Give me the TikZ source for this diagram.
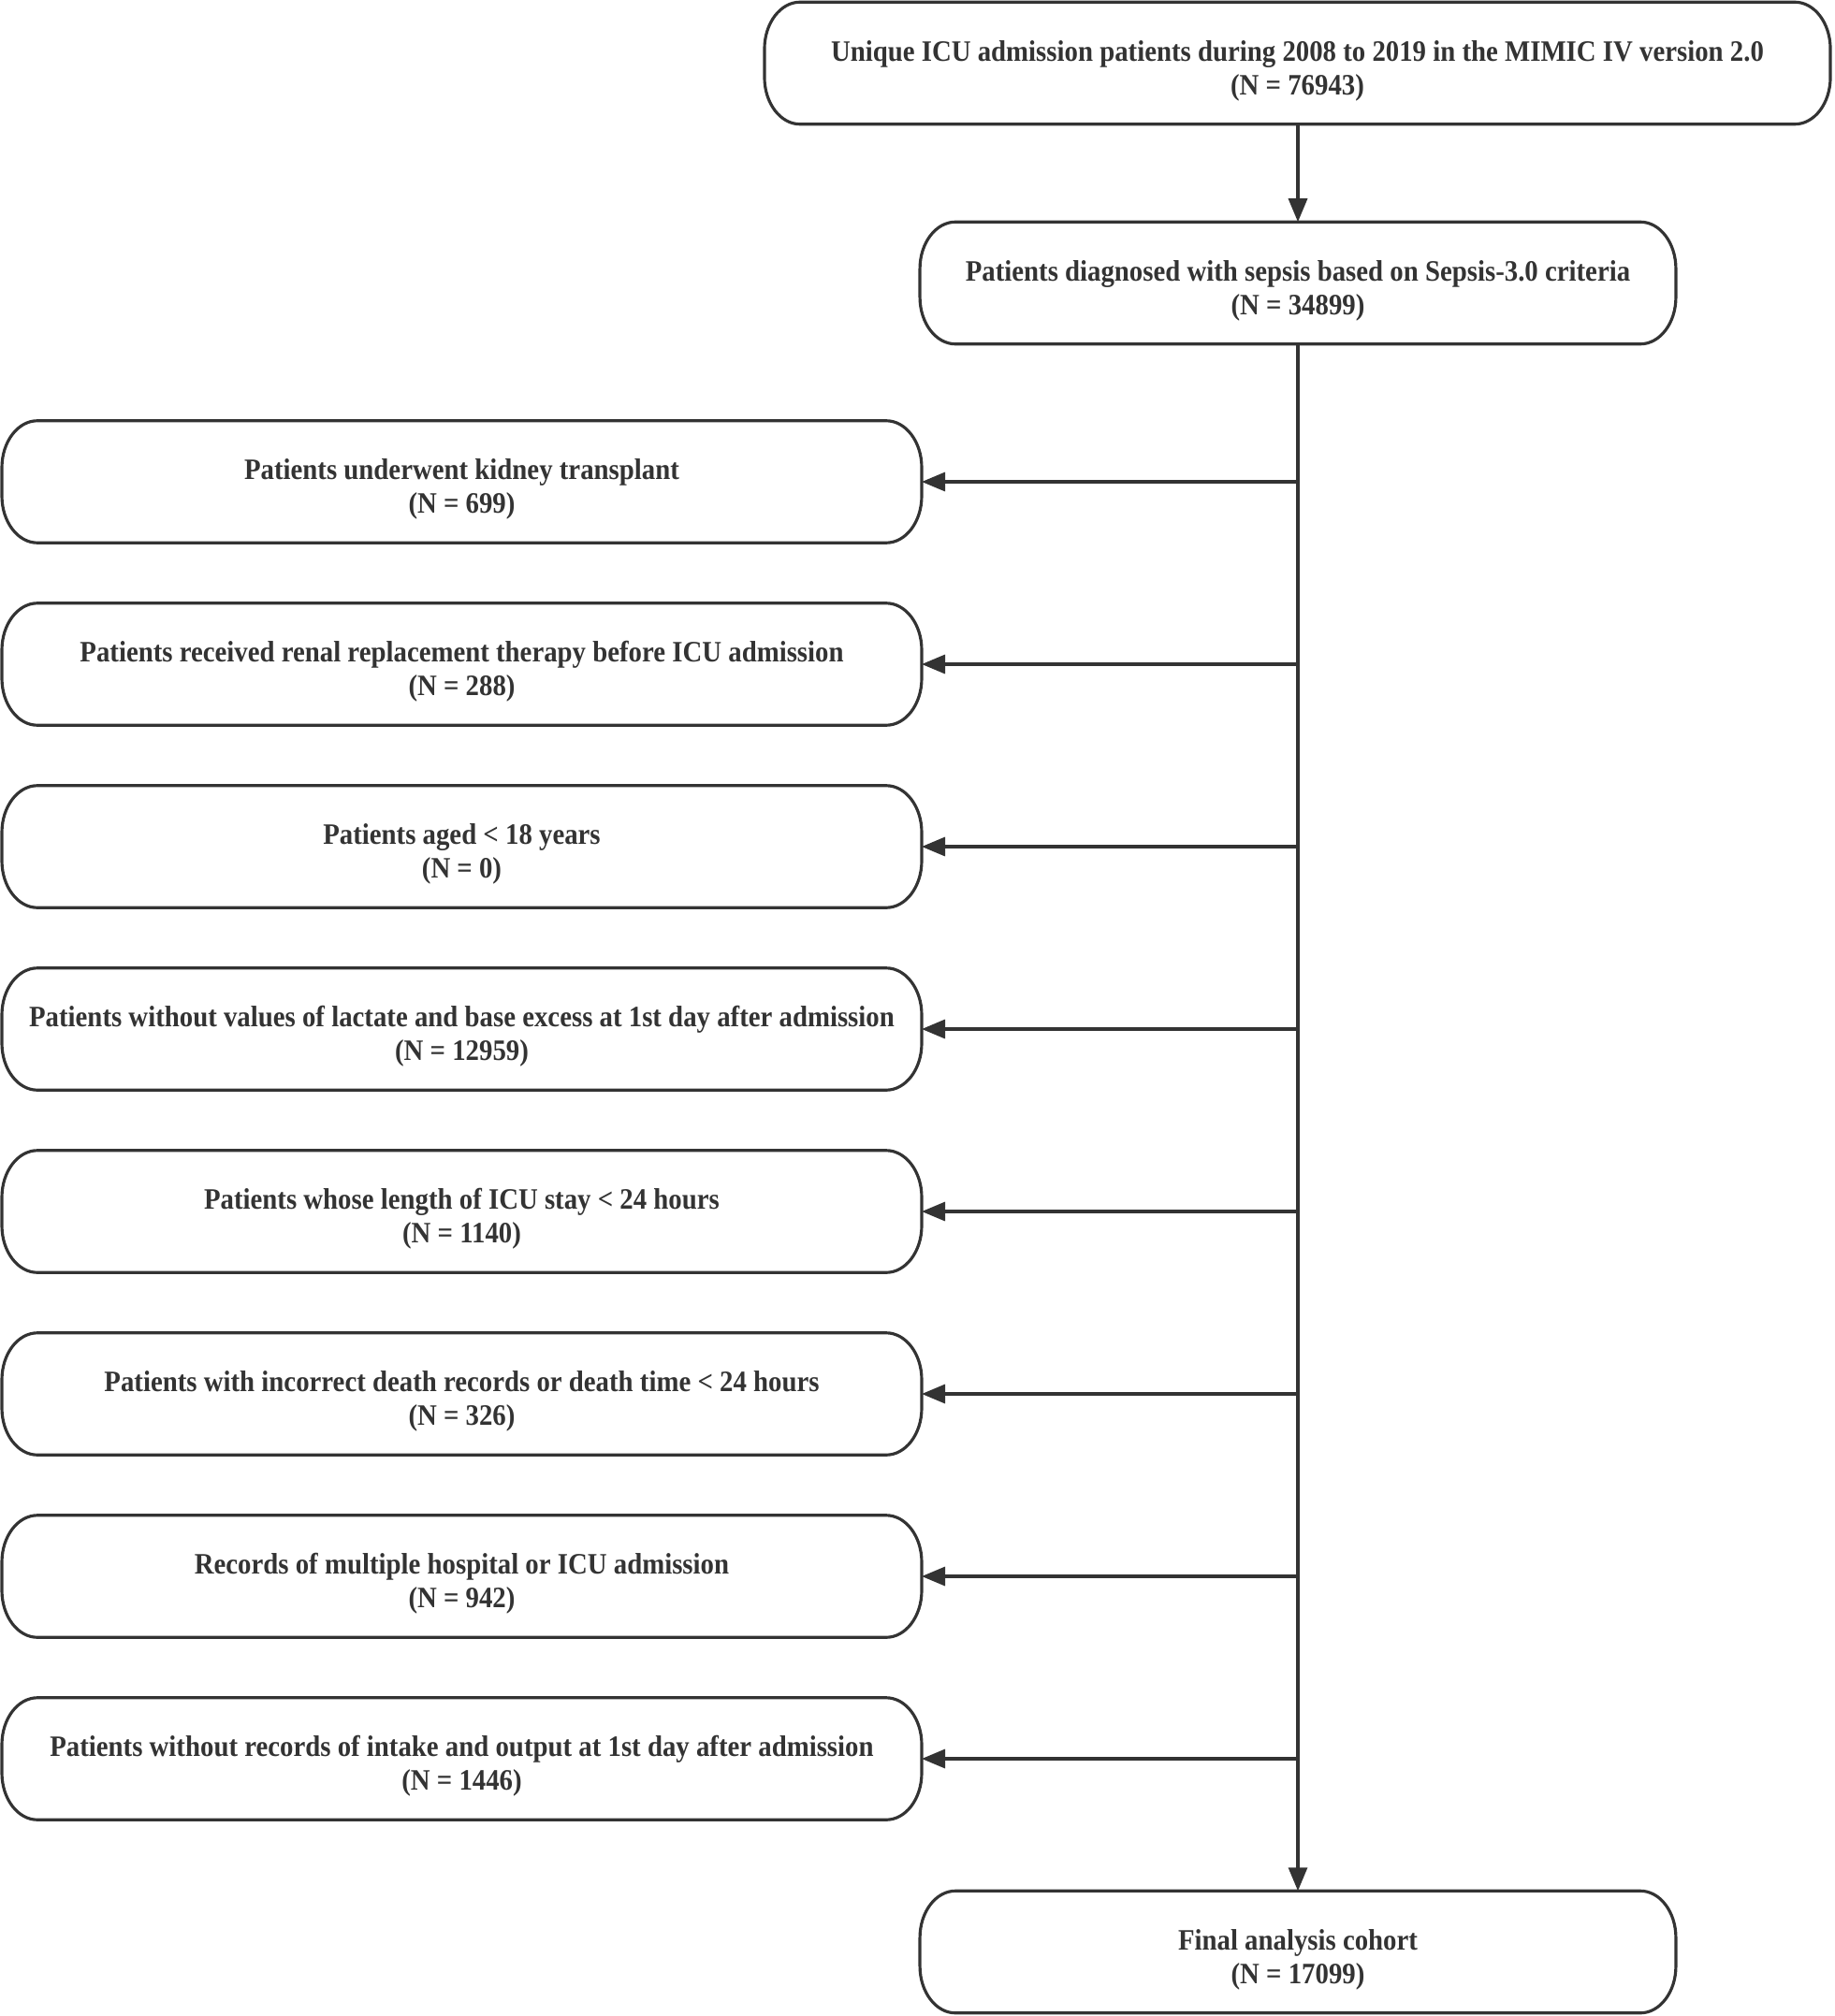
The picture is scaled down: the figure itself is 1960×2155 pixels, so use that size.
\documentclass[tikz,border=0pt]{standalone}
\usepackage{fontspec}
\setmainfont{Liberation Serif}[FakeStretch=0.91]
\usepackage{xcolor}
\usetikzlibrary{positioning, arrows.meta}

\definecolor{ink}{HTML}{333333}

% outline with elliptical corners
\newcommand{\capsule}[1]{%
    \draw[ink line] ([xshift=0.38cm]#1.north west) -- ([xshift=-0.38cm]#1.north east)
        arc[start angle=90, end angle=0, x radius=0.38cm, y radius=0.5cm]
        -- ([yshift=0.5cm]#1.south east)
        arc[start angle=0, end angle=-90, x radius=0.38cm, y radius=0.5cm]
        -- ([xshift=0.38cm]#1.south west)
        arc[start angle=270, end angle=180, x radius=0.38cm, y radius=0.5cm]
        -- ([yshift=-0.5cm]#1.north west)
        arc[start angle=180, end angle=90, x radius=0.38cm, y radius=0.5cm] -- cycle;}

\begin{document}
\begin{tikzpicture}[
        x=0.01cm, y=-0.01cm,
        ink line/.style={draw=ink, line width=0.9pt},
        box/.style={rectangle, align=center, text=ink, inner sep=0pt,
            font=\fontsize{9}{10.2}\selectfont\bfseries,
            text height=19.8pt, text depth=0.6pt},
        wide box/.style={box, minimum width=11.37cm, minimum height=1.29cm},
        mid box/.style={box, minimum width=8.06cm, minimum height=1.29cm},
        side box/.style={box, minimum width=9.81cm, minimum height=1.29cm},
        line/.style={ink line, -{Triangle[length=0.25cm, width=0.2cm]}}
    ]
        \useasboundingbox (0,0) rectangle (1960,2155);

        % Main boxes
        \node[wide box] (Admit) at (1386.5,67.5) {Unique ICU admission patients during 2008 to 2019 in the MIMIC IV version 2.0\\(N = 76943)};
        \node[mid box] (Sepsis) at (1387,302.5) {Patients diagnosed with sepsis based on Sepsis-3.0 criteria\\(N = 34899)};
        \node[mid box] (Final) at (1387,2086.5) {Final analysis cohort\\(N = 17099)};
        \capsule{Admit}
        \capsule{Sepsis}
        \capsule{Final}

        % Exclusions
        \foreach \i/\txt [evaluate=\i as \yy using 515+195*(\i-1)] in {
            1/{Patients underwent kidney transplant\\(N = 699)},
            2/{Patients received renal replacement therapy before ICU admission\\(N = 288)},
            3/{Patients aged < 18 years\\(N = 0)},
            4/{Patients without values of lactate and base excess at 1st day after admission\\(N = 12959)},
            5/{Patients whose length of ICU stay < 24 hours\\(N = 1140)},
            6/{Patients with incorrect death records or death time < 24 hours\\(N = 326)},
            7/{Records of multiple hospital or ICU admission\\(N = 942)},
            8/{Patients without records of intake and output at 1st day after admission\\(N = 1446)}}
        {
            \node[side box] (Ex\i) at (493.5,\yy) {\txt};
            \capsule{Ex\i}
            \coordinate (Tap\i) at (Sepsis.south |- Ex\i.east);
            \draw[line] (Tap\i) -- (Ex\i.east);
        }

        % Trunk
        \draw[line] (Admit.south -| Sepsis.north) -- (Sepsis.north);
        \draw[line] (Sepsis.south) -- (Final.north);

    \end{tikzpicture}
\end{document}
